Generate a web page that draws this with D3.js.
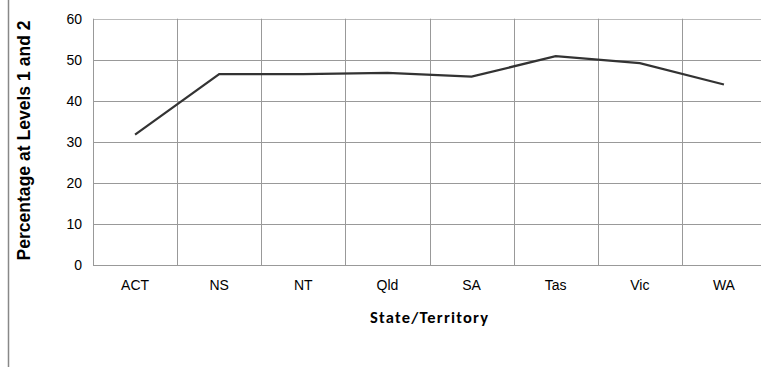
<!DOCTYPE html>
<html><head><meta charset="utf-8">
<script src="https://cdn.jsdelivr.net/npm/d3@7"></script>
<style>body{margin:0;background:#fff}svg{display:block}</style>
</head><body>
<svg id="c" width="761" height="367"></svg>
<script>
const categories = ["ACT","NS","NT","Qld","SA","Tas","Vic","WA"];
const values = [31.8, 46.5, 46.5, 46.8, 45.9, 50.9, 49.2, 44.0];
const yTicks = [0,10,20,30,40,50,60];

const svg = d3.select("#c");
const m = {left:93, top:18.7, right:766, bottom:265.3};
const x = d3.scaleBand().domain(categories).range([m.left, m.right]);
const y = d3.scaleLinear().domain([0,60]).range([m.bottom, m.top]);

// frame line on the left
svg.append("line").attr("x1",8.5).attr("x2",8.5).attr("y1",0).attr("y2",367)
  .attr("stroke","#888").attr("stroke-width",1.5);

// horizontal gridlines
svg.append("g").selectAll("line").data(yTicks).join("line")
  .attr("x1",m.left).attr("x2",m.right)
  .attr("y1",d=>Math.round(y(d))+0.5).attr("y2",d=>Math.round(y(d))+0.5)
  .attr("stroke",d=>d===60?"#bbb":"#999").attr("stroke-width",1);

// vertical gridlines (band boundaries)
const bounds = categories.map(c=>x(c)).concat([m.right]);
svg.append("g").selectAll("line").data(bounds).join("line")
  .attr("x1",d=>Math.round(d)+0.5).attr("x2",d=>Math.round(d)+0.5)
  .attr("y1",m.top).attr("y2",m.bottom)
  .attr("stroke","#999").attr("stroke-width",1);

// y tick labels
svg.append("g").selectAll("text").data(yTicks).join("text")
  .attr("x",82).attr("y",d=>y(d)+5)
  .attr("text-anchor","end")
  .style("font-family","Liberation Sans, Arial, sans-serif").style("font-size","14px")
  .attr("fill","#000").text(d=>d);

// x tick labels
svg.append("g").selectAll("text").data(categories).join("text")
  .attr("x",d=>x(d)+x.bandwidth()/2).attr("y",290)
  .attr("text-anchor","middle")
  .style("font-family","Liberation Sans, Arial, sans-serif").style("font-size","14px")
  .attr("fill","#000").text(d=>d);

// line
const line = d3.line().x((d,i)=>x(categories[i])+x.bandwidth()/2).y(d=>y(d));
svg.append("path").datum(values).attr("d",line)
  .attr("fill","none").attr("stroke","#333").attr("stroke-width",2.2)
  .attr("stroke-linejoin","miter");

// axis titles
svg.append("text").attr("transform","translate(30,140.5) rotate(-90)")
  .attr("text-anchor","middle")
  .attr("textLength",240).attr("lengthAdjust","spacing")
  .style("font-family","Liberation Sans, Arial, sans-serif").style("font-size","17.5px").style("font-weight","bold")
  .attr("fill","#000").text("Percentage at Levels 1 and 2");

svg.append("text").attr("x",429).attr("y",323)
  .attr("text-anchor","middle")
  .attr("textLength",118).attr("lengthAdjust","spacing")
  .style("font-family","Carlito, Liberation Sans, Arial, sans-serif").style("font-size","16.5px").style("font-weight","bold")
  .attr("fill","#000").text("State/Territory");
</script>
</body></html>
